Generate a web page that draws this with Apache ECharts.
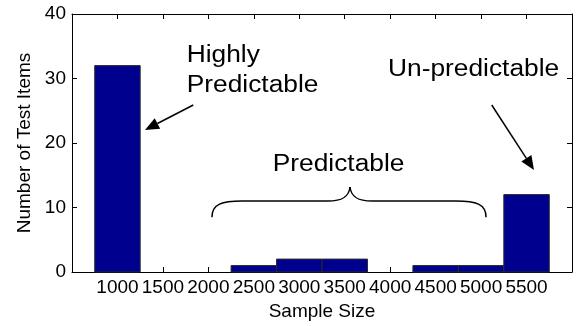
<!DOCTYPE html>
<html><head><meta charset="utf-8">
<script src="https://cdn.jsdelivr.net/npm/echarts@6/dist/echarts.min.js"></script>
<style>html,body{margin:0;padding:0;background:#fff}#c{width:581px;height:326px}</style>
</head><body><div id="c"></div>
<script>
// ---- data ----
const sampleSizes = [1000, 1500, 2000, 2500, 3000, 3500, 4000, 4500, 5000, 5500];
const itemCounts  = [32, 0, 0, 1, 2, 2, 0, 1, 1, 12];
const xTickLabels = ['1000', '1500', '2000', '2500', '3000', '3500', '4000', '4500', '5000', '5500'];
const yTickLabels = ['0', '10', '20', '30', '40'];
const binWidth = 500;
const xAxisName = 'Sample Size';
const yAxisName = 'Number of Test Items';
const annoHighly = 'Highly\nPredictable';
const annoPredictable = 'Predictable';
const annoUnpredictable = 'Un-predictable';

const FONT = '"Liberation Sans", Arial, sans-serif';
const chart = echarts.init(document.getElementById('c'), null, {renderer: 'canvas'});

const tickCommon = {show: true, inside: true, length: 5, lineStyle: {color: '#000', width: 1}};
const lineCommon = {show: true, onZero: false, lineStyle: {color: '#000', width: 1}};

chart.setOption({
  animation: false,
  backgroundColor: '#fff',
  grid: {left: 72, top: 14, right: 9, bottom: 54, containLabel: false},
  xAxis: [{
    type: 'value', position: 'bottom', min: 500, max: 6000, interval: 500,
    axisLine: lineCommon, axisTick: tickCommon, splitLine: {show: false},
    axisLabel: {
      color: '#000', fontSize: 19, fontFamily: FONT, margin: 6,
      formatter: v => xTickLabels.includes(String(v)) ? String(v) : ''
    },
    name: xAxisName, nameLocation: 'middle', nameGap: 28,
    nameTextStyle: {color: '#000', fontSize: 19, fontFamily: FONT}
  }, {
    type: 'value', position: 'top', min: 500, max: 6000, interval: 500,
    axisLine: lineCommon, axisTick: tickCommon, splitLine: {show: false},
    axisLabel: {show: false}
  }],
  yAxis: [{
    type: 'value', position: 'left', min: 0, max: 40, interval: 10,
    axisLine: lineCommon, axisTick: tickCommon, splitLine: {show: false},
    axisLabel: {
      color: '#000', fontSize: 19, fontFamily: FONT, margin: 6,
      formatter: v => yTickLabels.includes(String(v)) ? String(v) : ''
    },
    name: yAxisName, nameLocation: 'middle', nameGap: 36, nameRotate: 90,
    nameTextStyle: {color: '#000', fontSize: 19, fontFamily: FONT}
  }, {
    type: 'value', position: 'right', min: 0, max: 40, interval: 10,
    axisLine: lineCommon, axisTick: tickCommon, splitLine: {show: false},
    axisLabel: {show: false}
  }],
  series: [{
    type: 'custom',
    xAxisIndex: 0, yAxisIndex: 0,
    encode: {x: 0, y: 1},
    data: sampleSizes.map((s, i) => [s, itemCounts[i]]),
    renderItem: function (params, api) {
      const x = api.value(0), y = api.value(1);
      if (!y) return null;
      const p0 = api.coord([x - binWidth / 2, y]);
      const p1 = api.coord([x + binWidth / 2, 0]);
      return {
        type: 'rect',
        shape: {x: p0[0], y: p0[1], width: p1[0] - p0[0], height: p1[1] - p0[1]},
        style: {fill: '#00008F', stroke: '#2a2a2a', lineWidth: 1}
      };
    }
  }]
});

// ---- annotations placed in data coordinates ----
const P = (x, y) => chart.convertToPixel({xAxisIndex: 0, yAxisIndex: 0}, [x, y]);
const STROKE = {stroke: '#000', lineWidth: 1.5, fill: null};

function arrow(from, to) {
  const a = P(from[0], from[1]), b = P(to[0], to[1]);
  const dx = b[0] - a[0], dy = b[1] - a[1];
  const len = Math.hypot(dx, dy), ux = dx / len, uy = dy / len;
  const hl = 14, hw = 6;
  const bx = b[0] - ux * hl, by = b[1] - uy * hl;
  return [
    {type: 'line', shape: {x1: a[0], y1: a[1], x2: bx, y2: by}, style: {stroke: '#000', lineWidth: 1.5}},
    {type: 'polygon', shape: {points: [[b[0], b[1]], [bx - uy * hw, by + ux * hw], [bx + uy * hw, by - ux * hw]]},
      style: {fill: '#000'}}
  ];
}

function text(str, at, size) {
  const p = P(at[0], at[1]);
  return {type: 'text', x: p[0], y: p[1], scaleX: 1.12,
    style: {text: str, fontSize: size, fontFamily: FONT, fill: '#000', align: 'left', verticalAlign: 'middle', lineHeight: 29.5}};
}

function bez(x1, y1, c1x, c1y, c2x, c2y, x2, y2) {
  return {type: 'bezierCurve', shape: {x1, y1, cpx1: c1x, cpy1: c1y, cpx2: c2x, cpy2: c2y, x2, y2}, style: STROKE};
}
function seg(x1, y1, x2, y2) {
  return {type: 'line', shape: {x1, y1, x2, y2}, style: STROKE};
}

function brace(xl, xm, xr, yEnd, yBar, yCusp) {
  const l = P(xl, yEnd), m = P(xm, yCusp), r = P(xr, yEnd);
  const yb = P(xl, yBar)[1];
  return [
    bez(l[0], l[1], l[0], yb + 3, l[0] + 10, yb, l[0] + 30, yb),
    seg(l[0] + 30, yb, m[0] - 22, yb),
    bez(m[0] - 22, yb, m[0] - 8, yb, m[0] - 1, yb - 4, m[0], m[1]),
    bez(m[0], m[1], m[0] + 1, yb - 4, m[0] + 8, yb, m[0] + 22, yb),
    seg(m[0] + 22, yb, r[0] - 30, yb),
    bez(r[0] - 30, yb, r[0] - 10, yb, r[0], yb + 3, r[0], r[1])
  ];
}

chart.setOption({
  graphic: [
    text(annoHighly, [1762, 31.2], 23.5),
    text(annoPredictable, [2708, 16.74], 23.5),
    text(annoUnpredictable, [3976, 31.47], 23.5),
    ...arrow([1834, 25.89], [1303, 22.02]),
    ...arrow([5117, 25.89], [5582, 15.81]),
    ...brace(2040, 3558, 5054, 8.5, 11.0, 13.18)
  ]
});
</script>
</body></html>
